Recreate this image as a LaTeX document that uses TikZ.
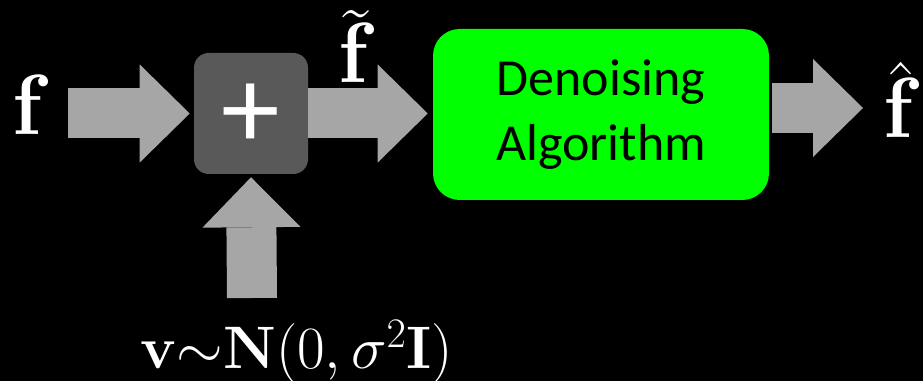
\RequirePackage{fix-cm}
\documentclass[tikz,border=0pt]{standalone}
\usepackage{fontspec}
\newfontfamily\calibri{Carlito}
\usetikzlibrary{arrows.meta,positioning}
\definecolor{sumgray}{HTML}{595959}
\definecolor{arrowgray}{HTML}{A6A6A6}
\definecolor{algogreen}{HTML}{00FF00}
\tikzset{
  sumbox/.style={fill=sumgray,rounded corners=11pt,minimum width=85.5pt,
                 minimum height=90.75pt,inner sep=0pt,text=white,
                 text height=51.8pt,text depth=0pt,
                 font=\calibri\fontsize{88}{90}\selectfont},
  algobox/.style={fill=algogreen,rounded corners=20pt,minimum width=252pt,
                  minimum height=128.25pt,align=center,
                  font=\calibri\fontsize{39}{48.75}\selectfont},
  blockarrow/.style={-{Triangle[length=37.5pt,width=73.5pt,line width=0pt]},
                     line width=37.5pt,arrowgray},
  signal/.style={text=white,inner sep=0pt,anchor=base,
                 font=\fontsize{64}{70}\selectfont},
}
\newcommand{\lowf}{\raisebox{0pt}[40pt][0pt]{\textbf{f}}}
\begin{document}
\begin{tikzpicture}[x=0.75pt,y=0.75pt]
  % ---- Background ----
  \fill[black] (0,0) rectangle (923,381);
  \useasboundingbox (0,0) rectangle (923,381);

  % ---- Blocks ----
  \node[sumbox] (sum) at (251,267.5) {+};
  \node[algobox] (algo) at (601,266.5) {Denoising\\Algorithm};

  % ---- Signals ----
  \node[signal] (f) at (31,246) {\textbf{f}};
  \node[signal] (ftilde) at (356,298) {$\tilde{\lowf}$};
  \node[signal] (fhat) at (901,243) {$\hat{\lowf}$};
  \node[text=white,anchor=base,inner sep=0pt,font=\fontsize{45}{50}\selectfont]
    (noise) at (297,12) {$\textbf{v}{\sim}\textbf{N}(0,\sigma^2\textbf{I})$};

  % ---- Block arrows ----
  \coordinate (fin) at (68,267.5);
  \coordinate (fout) at (863,273);
  \coordinate (vin) at (252,83);
  \draw[blockarrow,shorten >=3pt] (fin) -- (sum.west);
  \draw[blockarrow,shorten >=3.75pt] (sum.east) -- (sum.east -| algo.west);
  \draw[blockarrow,shorten <=2.25pt] (algo.east |- fout) -- (fout);
  \draw[blockarrow,shorten >=2.25pt] (vin) -- (sum.south);
\end{tikzpicture}
\end{document}
